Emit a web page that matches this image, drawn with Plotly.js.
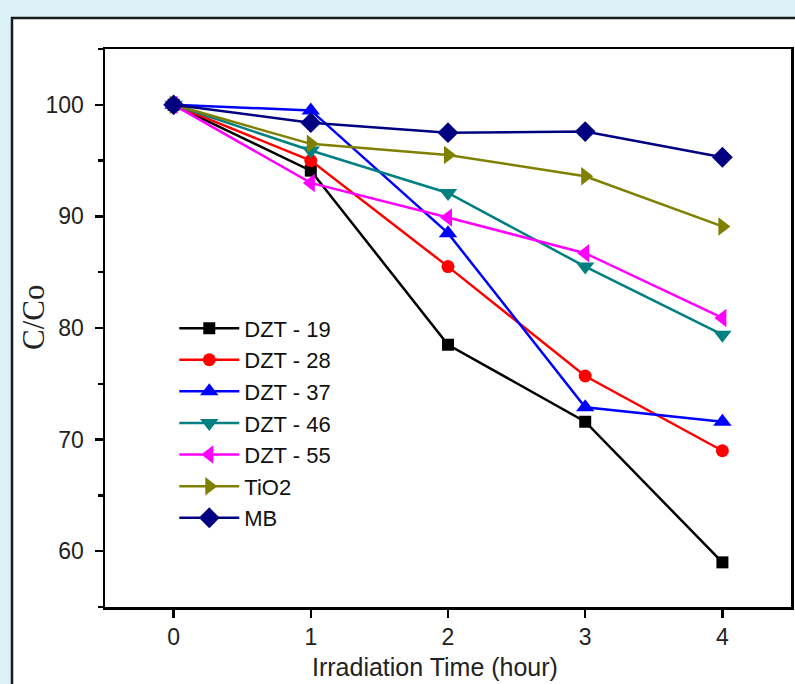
<!DOCTYPE html>
<html>
<head>
<meta charset="utf-8">
<script src="https://cdn.plot.ly/plotly-3.0.1.min.js"></script>
<style>
html,body{margin:0;padding:0;background:#daf2f8;}
#chart{width:795px;height:684px;}
</style>
</head>
<body>
<div id="chart"></div>
<script>
const hours = [0, 1, 2, 3, 4];
const seriesNames = ["DZT - 19", "DZT - 28", "DZT - 37", "DZT - 46", "DZT - 55", "TiO2", "MB"];
const dzt19 = [100, 94.1, 78.5, 71.6, 59.0];
const dzt28 = [100, 95.0, 85.5, 75.7, 69.0];
const dzt37 = [100, 99.5, 88.5, 72.9, 71.6];
const dzt46 = [100, 95.9, 92.1, 85.5, 79.4];
const dzt55 = [100, 93.0, 89.9, 86.7, 80.9];
const tio2  = [100, 96.5, 95.5, 93.6, 89.1];
const mb    = [100, 98.4, 97.5, 97.6, 95.3];
const xTickLabels = ["0", "1", "2", "3", "4"];
const yTickLabels = ["60", "70", "80", "90", "100"];
const xTitle = "Irradiation Time (hour)";
const yTitle = "C/Co";

const values = [dzt19, dzt28, dzt37, dzt46, dzt55, tio2, mb];
const colors = ["#000000", "#ff0000", "#0000ff", "#008080", "#ff00ff", "#808000", "#000080"];
const symbols = ["square", "circle", "triangle-up", "triangle-down", "triangle-left", "triangle-right", "diamond"];
const sizes = [12, 13, 16, 16, 16, 16, 16];

const traces = values.map((v, i) => ({
  x: hours, y: v, name: seriesNames[i], type: "scatter", mode: "lines+markers",
  line: {color: colors[i], width: 2.5},
  marker: {symbol: symbols[i], color: colors[i], size: sizes[i], line: {width: 0}},
  cliponaxis: false
}));

const L = 105, R = 4, T = 49, B = 77, W = 795, H = 684;
const pw = W - L - R, ph = H - T - B;

const layout = {
  width: W, height: H,
  margin: {l: L, r: R, t: T, b: B, pad: 0},
  paper_bgcolor: "#daf2f8",
  plot_bgcolor: "#ffffff",
  font: {family: "Arial, 'Liberation Sans', sans-serif", color: "#222"},
  showlegend: true,
  legend: {
    x: 0.101, y: 0.537, xanchor: "left", yanchor: "top",
    bgcolor: "rgba(0,0,0,0)", borderwidth: 0,
    font: {size: 22, family: "Arial, 'Liberation Sans', sans-serif", color: "#111"},
    itemwidth: 60, tracegroupgap: 0
  },
  xaxis: {
    range: [-0.5, 4.5], tickmode: "array", tickvals: hours, ticktext: xTickLabels,
    showline: true, mirror: true, linecolor: "#000", linewidth: 2.5,
    ticks: "outside", ticklen: 8, tickwidth: 2.5, tickcolor: "#000",
    showgrid: false, zeroline: false,
    tickfont: {size: 23, color: "#222"}
  },
  yaxis: {
    range: [55, 105], tickmode: "array", tickvals: [60, 70, 80, 90, 100], ticktext: yTickLabels,
    showline: true, mirror: true, linecolor: "#000", linewidth: 2.5,
    ticks: "outside", ticklen: 8, tickwidth: 2.5, tickcolor: "#000",
    minor: {dtick: 5, tick0: 0, ticks: "outside", ticklen: 5, tickwidth: 2.5, tickcolor: "#000", showgrid: false},
    showgrid: false, zeroline: false,
    tickfont: {size: 23, color: "#222"},
    ticklabelstandoff: 6
  },
  annotations: [
    {text: xTitle, xref: "paper", yref: "paper", x: (435 - L) / pw, y: (H - B - 683) / ph,
     xanchor: "center", yanchor: "bottom", showarrow: false,
     font: {size: 25, family: "Arial, 'Liberation Sans', sans-serif", color: "#222"}},
    {text: yTitle, xref: "paper", yref: "paper", x: (33 - L) / pw, y: (H - B - 318) / ph,
     xanchor: "center", yanchor: "middle", textangle: -90, showarrow: false,
     font: {size: 31, family: "'Times New Roman', 'Liberation Serif', serif", color: "#222"}}
  ],
  shapes: [{
    type: "rect", xref: "paper", yref: "paper", layer: "below",
    x0: (12 - L) / pw, x1: 1.2, y0: -0.4, y1: (H - B - 18) / ph,
    fillcolor: "#ffffff", line: {color: "#1a1a1a", width: 2.5}
  }]
};

Plotly.newPlot("chart", traces, layout, {displayModeBar: false, staticPlot: true});
</script>
</body>
</html>
